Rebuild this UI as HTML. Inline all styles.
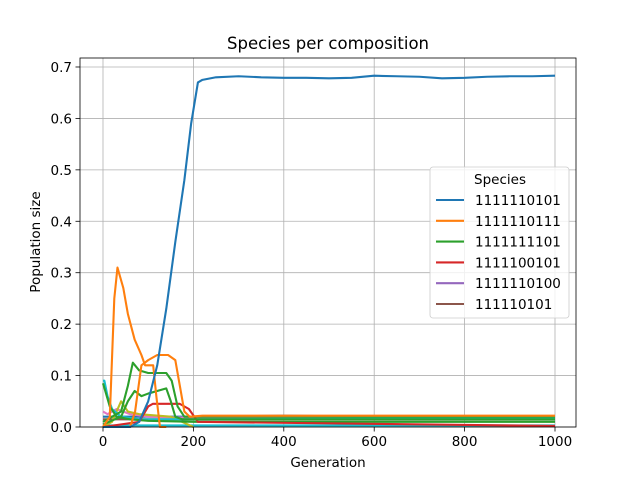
<!DOCTYPE html>
<html><head><meta charset="utf-8"><style>
body{margin:0;background:#fff;font-family:"Liberation Sans","DejaVu Sans",sans-serif}
svg text{font-family:"DejaVu Sans","Liberation Sans",sans-serif;fill:#000}
</style></head><body>
<svg id="chart" width="640" height="480" xmlns="http://www.w3.org/2000/svg">
<rect width="640" height="480" fill="#fff"/>
<g id="grid"></g><g id="series"></g><g id="axes"></g><g id="legend"></g>
</svg>
<script>
const xTicks=[0,200,400,600,800,1000];
const yTicks=[0.0,0.1,0.2,0.3,0.4,0.5,0.6,0.7];
const legendLabels=["1111110101","1111110111","1111111101","1111100101","1111110100","111110101"];
const legendColors=["#1f77b4","#ff7f0e","#2ca02c","#d62728","#9467bd","#8c564b"];
const seriesGens=[
[0,60,80,100,120,140,160,180,195,210,220,250,300,350,400,450,500,550,600,650,700,750,800,850,900,950,1000],
[0,15,25,32,45,55,70,85,93,111,118,126,140],
[0,60,71,85,100,120,144,160,170,180,192,220,1000],
[0,40,55,66,80,100,140,152,165,180,200,1000],
[0,40,55,70,85,100,140,150,160,175,1000],
[0,80,100,110,170,190,210,1000],
[0,5,15,30,60,100,200,1000],
[0,3,10,20,40,80,200,1000],
[0,20,40,55,80,150,200],
[0,10,30,60,100,200,1000],
[0,200,400,600,800,1000],
[0,200,400,600,800,1000],
[0,200,1000]
];
const seriesVals=[
[0,0,0.01,0.05,0.12,0.23,0.36,0.48,0.59,0.67,0.675,0.68,0.682,0.68,0.679,0.679,0.678,0.679,0.683,0.682,0.681,0.678,0.679,0.681,0.682,0.682,0.683],
[0,0.02,0.25,0.31,0.27,0.22,0.17,0.14,0.12,0.12,0.06,0.0,0],
[0,0,0.03,0.12,0.13,0.14,0.14,0.13,0.08,0.03,0.02,0.022,0.022],
[0.01,0.03,0.08,0.125,0.11,0.105,0.105,0.09,0.04,0.02,0.02,0.02],
[0.005,0.02,0.05,0.07,0.06,0.065,0.075,0.05,0.02,0.015,0.015],
[0,0.01,0.04,0.045,0.045,0.035,0.01,0.002],
[0.085,0.07,0.04,0.02,0.015,0.012,0.01,0.01],
[0.09,0.09,0.06,0.035,0.02,0.015,0.015,0.018],
[0,0.01,0.05,0.03,0.025,0.02,0.0],
[0.03,0.025,0.035,0.025,0.02,0.018,0.02],
[0.02,0.02,0.022,0.02,0.021,0.021],
[0.003,0.003,0.003,0.003,0.003,0.003],
[0.015,0.015,0.015]
];
const seriesColors=["#1f77b4","#ff7f0e","#ff7f0e","#2ca02c","#2ca02c","#d62728","#2ca02c","#17becf","#bcbd22","#e377c2","#1f77b4","#17becf","#8c564b"];
const L=80,T=58,R=576,B=427;
const xs=v=>103+v*0.452;
const ys=v=>427-v*514.3;
const NS="http://www.w3.org/2000/svg";
function mk(t,a,p){const e=document.createElementNS(NS,t);for(const k in a)e.setAttribute(k,a[k]);p.appendChild(e);return e;}
const grid=document.getElementById('grid'),axes=document.getElementById('axes'),ser=document.getElementById('series'),leg=document.getElementById('legend');
xTicks.forEach(t=>{
 const g=mk('line',{x1:xs(t),x2:xs(t),y1:T,y2:B,stroke:'#b0b0b0','stroke-width':0.8},grid);
 
 
 mk('line',{x1:xs(t),x2:xs(t),y1:B,y2:B+4.5,stroke:'#000','stroke-width':0.8},axes);
 const tx=mk('text',{x:xs(t),y:B+19,'text-anchor':'middle','font-size':13.5},axes);tx.textContent=t;
 
 
});
yTicks.forEach(t=>{
 const g=mk('line',{x1:L,x2:R,y1:ys(t),y2:ys(t),stroke:'#b0b0b0','stroke-width':0.8},grid);
 
 
 mk('line',{x1:L-4.5,x2:L,y1:ys(t),y2:ys(t),stroke:'#000','stroke-width':0.8},axes);
 const tx=mk('text',{x:L-8,y:ys(t)+5,'text-anchor':'end','font-size':13.5},axes);tx.textContent=t.toFixed(1);
 
 
});
for(let i=seriesGens.length-1;i>=0;i--){
 const pts=seriesGens[i].map((g,j)=>xs(g)+','+ys(seriesVals[i][j])).join(' ');
 const p=mk('polyline',{points:pts,fill:'none',stroke:seriesColors[i],'stroke-width':2.1,'stroke-linejoin':'round'},ser);
 
 
}
const fr=mk('rect',{x:L,y:T,width:R-L,height:B-T,fill:'none',stroke:'#000','stroke-width':0.8},axes);


const ti=mk('text',{x:328,y:49,'text-anchor':'middle','font-size':16.5},axes);ti.textContent='Species per composition';


const xl=mk('text',{x:328,y:467,'text-anchor':'middle','font-size':13.5},axes);xl.textContent='Generation';


const yl=mk('text',{x:0,y:0,'text-anchor':'middle','font-size':13.5,transform:'translate(40,242) rotate(-90)'},axes);yl.textContent='Population size';


const lb=mk('rect',{x:430,y:167,width:139,height:151,rx:3,fill:'#fff','fill-opacity':0.8,stroke:'#ccc','stroke-width':0.8},leg);


const lt=mk('text',{x:500,y:184,'text-anchor':'middle','font-size':13.5},leg);lt.textContent='Species';


legendLabels.forEach((s,i)=>{
 const y=200+i*20.8;
 const ln=mk('line',{x1:436,x2:464,y1:y,y2:y,stroke:legendColors[i],'stroke-width':2.1},leg);
 
 
 const t=mk('text',{x:475,y:y+5,'font-size':13.5},leg);t.textContent=s;
 
 
});
</script>
</body></html>
